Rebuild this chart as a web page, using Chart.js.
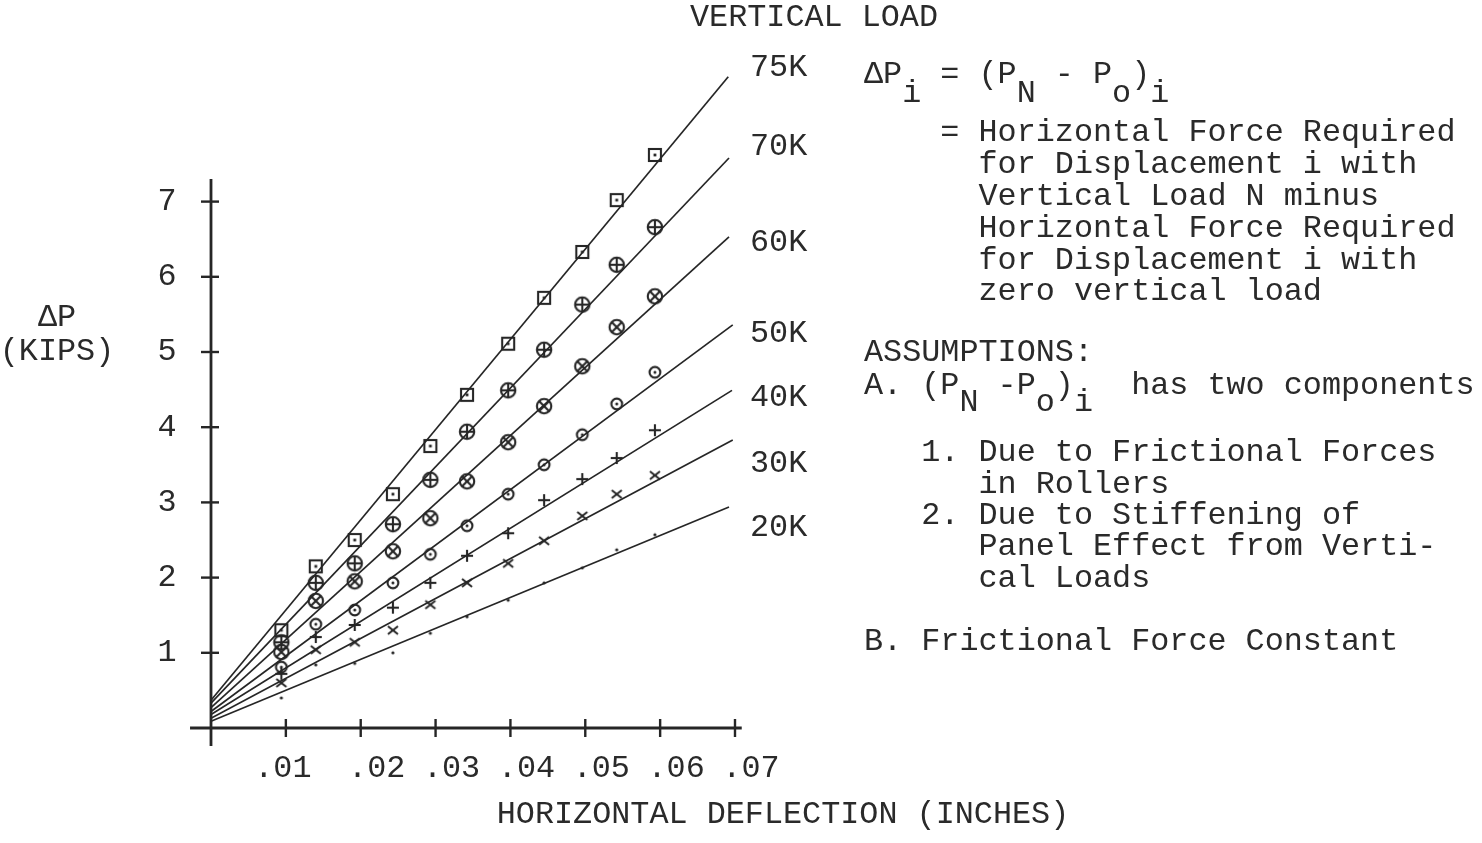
<!DOCTYPE html>
<html>
<head>
<meta charset="utf-8">
<title>Vertical load vs horizontal deflection</title>
<script src="https://cdn.jsdelivr.net/npm/chart.js@4.4.0/dist/chart.umd.min.js"></script>
<style>
  html, body { margin: 0; padding: 0; background: #fff; }
  canvas { display: block; }
</style>
</head>
<body>
<canvas id="loadChart" width="1482" height="843"></canvas>
<script>
// measured ΔP (kips) at each deflection step, one list per vertical load
const loads = ['75K', '70K', '60K', '50K', '40K', '30K', '20K'];
const deflection = [0.0094, 0.0140, 0.0192, 0.0243, 0.0293, 0.0342, 0.0397, 0.0445, 0.0496, 0.0542, 0.0593];
const dp75 = [1.30, 2.15, 2.50, 3.11, 3.75, 4.43, 5.11, 5.72, 6.33, 7.02, 7.62];
const dp70 = [1.14, 1.93, 2.19, 2.71, 3.30, 3.94, 4.49, 5.03, 5.63, 6.16, 6.66];
const dp60 = [1.01, 1.69, 1.95, 2.35, 2.79, 3.28, 3.80, 4.28, 4.81, 5.33, 5.74];
const dp50 = [0.81, 1.38, 1.57, 1.93, 2.31, 2.69, 3.11, 3.50, 3.90, 4.31, 4.73];
const dp40 = [0.72, 1.21, 1.37, 1.60, 1.93, 2.29, 2.59, 3.03, 3.31, 3.59, 3.96];
const dp30 = [0.60, 1.04, 1.14, 1.30, 1.64, 1.93, 2.19, 2.49, 2.82, 3.11, 3.36];
const dp20 = [0.40, 0.84, 0.86, 1.00, 1.26, 1.48, 1.70, 1.93, 2.13, 2.37, 2.57];

// fitted lines: ΔP at zero deflection, deflection at the end, ΔP at the end
const fitStart = [0.37, 0.33, 0.27, 0.22, 0.18, 0.13, 0.09];
const fitEndX = [0.0691, 0.0692, 0.0692, 0.0697, 0.0696, 0.0697, 0.0692];
const fitEnd = [8.66, 7.58, 6.53, 5.36, 4.49, 3.83, 2.94];

const xTicks = [0.01, 0.02, 0.03, 0.04, 0.05, 0.06, 0.07];
const xTickLabels = ['.01', '.02', '.03', '.04', '.05', '.06', '.07'];
const yTicks = [1, 2, 3, 4, 5, 6, 7];

// rows (in kips) where the load names are typed beside the line ends
const loadLabelRows = [8.78, 7.73, 6.46, 5.25, 4.39, 3.51, 2.67];

const INK = '#262626';
const TYPE = '31.8px "Liberation Mono", "Courier New", monospace';
const PITCH = 19.08;

// small hand-drawn style symbols used as point styles
function marker(size, draw) {
  const c = document.createElement('canvas');
  c.width = c.height = size;
  const g = c.getContext('2d');
  g.strokeStyle = INK;
  g.fillStyle = INK;
  g.lineWidth = 2.1;
  draw(g, size / 2);
  return c;
}
function ring(g, m, r) {
  g.beginPath();
  g.arc(m, m, r, 0, Math.PI * 2);
  g.stroke();
}
function seg(g, x1, y1, x2, y2) {
  g.beginPath();
  g.moveTo(x1, y1);
  g.lineTo(x2, y2);
  g.stroke();
}

const squareDot = marker(18, (g, m) => {
  g.strokeRect(m - 6, m - 6, 12, 12);
  g.fillRect(m - 1.4, m - 1.4, 2.8, 2.8);
});
const circlePlus = marker(20, (g, m) => {
  ring(g, m, 7.2);
  seg(g, m - 7, m, m + 7, m);
  seg(g, m, m - 7, m, m + 7);
});
const circleX = marker(20, (g, m) => {
  ring(g, m, 7.2);
  seg(g, m - 5, m - 5, m + 5, m + 5);
  seg(g, m - 5, m + 5, m + 5, m - 5);
});
const circleDot = marker(16, (g, m) => {
  ring(g, m, 5.4);
  g.beginPath();
  g.arc(m, m, 1.5, 0, Math.PI * 2);
  g.fill();
});
const plus = marker(16, (g, m) => {
  seg(g, m - 6, m, m + 6, m);
  seg(g, m, m - 6, m, m + 6);
});
const cross = marker(14, (g, m) => {
  seg(g, m - 5, m - 4, m + 5, m + 4);
  seg(g, m - 5, m + 4, m + 5, m - 4);
});
const dot = marker(6, (g, m) => {
  g.beginPath();
  g.arc(m, m, 1.6, 0, Math.PI * 2);
  g.fill();
});

const measured = [dp75, dp70, dp60, dp50, dp40, dp30, dp20];
const symbols = [squareDot, circlePlus, circleX, circleDot, plus, cross, dot];

const fitSets = loads.map((name, i) => ({
  type: 'line',
  label: name + ' fit',
  data: [{ x: 0, y: fitStart[i] }, { x: fitEndX[i], y: fitEnd[i] }],
  borderColor: INK,
  borderWidth: 1.7,
  pointRadius: 0,
  fill: false
}));

const pointSets = loads.map((name, i) => ({
  type: 'scatter',
  label: name,
  data: deflection.map((x, j) => ({ x: x, y: measured[i][j] })),
  pointStyle: symbols[i],
  pointRadius: 8,
  showLine: false
}));

// axes, ticks and all the typed text
const paperAxes = {
  id: 'paperAxes',
  beforeDatasetsDraw(chart) {
    const ctx = chart.ctx;
    const xs = chart.scales.x;
    const ys = chart.scales.y;
    const x0 = xs.getPixelForValue(0);
    const y0 = ys.getPixelForValue(0);
    ctx.save();
    ctx.strokeStyle = INK;
    ctx.lineWidth = 2.8;
    ctx.beginPath();
    ctx.moveTo(xs.left, y0);
    ctx.lineTo(xs.getPixelForValue(0.0709), y0);
    ctx.moveTo(x0, ys.bottom);
    ctx.lineTo(x0, ys.getPixelForValue(7.3));
    ctx.stroke();
    ctx.lineWidth = 2.4;
    xTicks.forEach(v => {
      const px = xs.getPixelForValue(v);
      ctx.beginPath();
      ctx.moveTo(px, y0 - 9);
      ctx.lineTo(px, y0 + 9);
      ctx.stroke();
    });
    yTicks.forEach(v => {
      const py = ys.getPixelForValue(v);
      ctx.beginPath();
      ctx.moveTo(x0 - 10, py);
      ctx.lineTo(x0 + 8, py);
      ctx.stroke();
    });
    ctx.restore();
  },
  afterDraw(chart) {
    const ctx = chart.ctx;
    const xs = chart.scales.x;
    const ys = chart.scales.y;
    ctx.save();
    ctx.fillStyle = '#2a2a2a';
    ctx.font = TYPE;
    ctx.textBaseline = 'middle';

    ctx.textAlign = 'center';
    xTicks.forEach((v, i) => {
      // the typed row sits right of the ticks, except the first label
      const nudge = i === 0 ? -3 : 16;
      ctx.fillText(xTickLabels[i], xs.getPixelForValue(v) + nudge, 769);
    });
    yTicks.forEach(v => {
      ctx.fillText(String(v), 167, ys.getPixelForValue(v));
    });
    ctx.fillText('\u0394P', 57, 318);
    ctx.fillText('(KIPS)', 57, 352);
    ctx.fillText('VERTICAL LOAD', 814, 18);
    ctx.fillText('HORIZONTAL DEFLECTION (INCHES)', 783, 815);

    ctx.textAlign = 'left';
    loads.forEach((name, i) => {
      ctx.fillText(name, 750, ys.getPixelForValue(loadLabelRows[i]));
    });

    // definition and assumptions, typed on a fixed character grid
    const left = 864;
    const col = c => left + c * PITCH;
    ctx.fillText('\u0394P  = (P  - P )', col(0), 75);
    ctx.fillText('  i     N    o i', col(0), 94);
    const def = [
      '= Horizontal Force Required',
      '  for Displacement i with',
      '  Vertical Load N minus',
      '  Horizontal Force Required',
      '  for Displacement i with',
      '  zero vertical load'
    ];
    def.forEach((t, i) => ctx.fillText(t, col(4), 133 + i * 31.8));
    ctx.fillText('ASSUMPTIONS:', col(0), 353);
    ctx.fillText('A. (P  -P )   has two components', col(0), 386);
    ctx.fillText('     N   o i', col(0), 403);
    const items = [
      '1. Due to Frictional Forces',
      '   in Rollers',
      '2. Due to Stiffening of',
      '   Panel Effect from Verti-',
      '   cal Loads'
    ];
    items.forEach((t, i) => ctx.fillText(t, col(3), 453 + i * 31.3));
    ctx.fillText('B. Frictional Force Constant', col(0), 642);
    ctx.restore();
  }
};

new Chart(document.getElementById('loadChart'), {
  type: 'scatter',
  data: { datasets: [...fitSets, ...pointSets] },
  options: {
    responsive: false,
    animation: false,
    events: [],
    layout: {
      padding: { left: 190.04, right: 713.32, top: 51.2, bottom: 96.95 }
    },
    scales: {
      x: { type: 'linear', min: -0.0028, max: 0.0745, display: false },
      y: { type: 'linear', min: -0.24, max: 9.0, display: false }
    },
    plugins: {
      legend: { display: false },
      tooltip: { enabled: false }
    }
  },
  plugins: [paperAxes]
});
</script>
</body>
</html>
